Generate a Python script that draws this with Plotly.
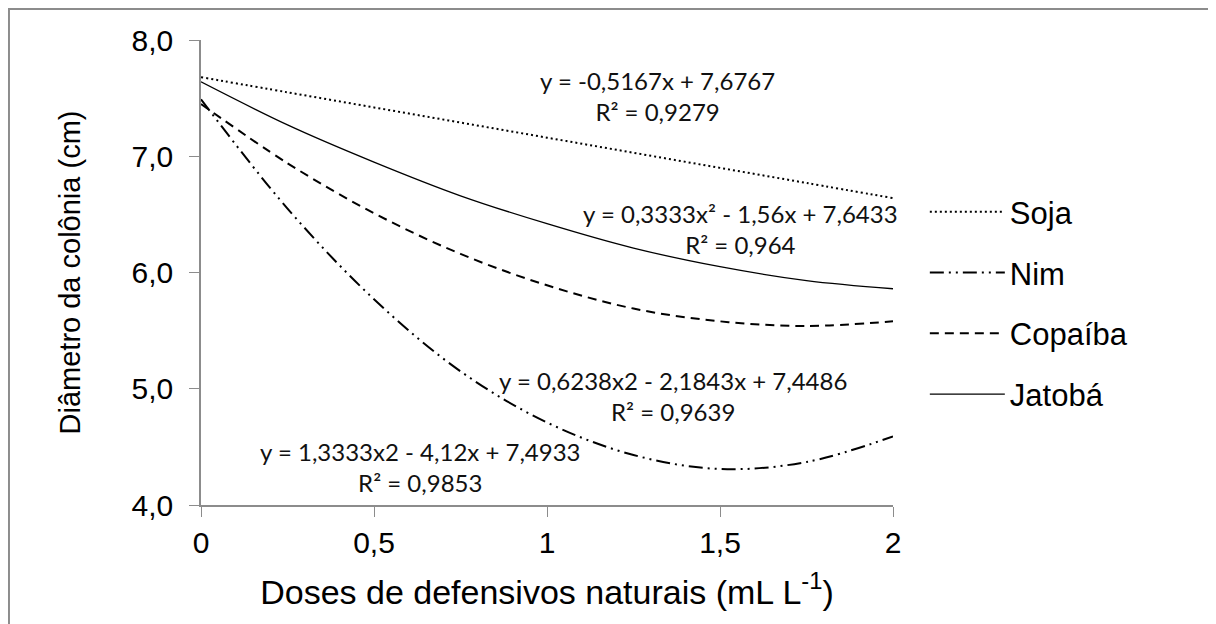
import plotly.graph_objects as go

# Doses (mL L-1)
doses = [0, 0.25, 0.5, 0.75, 1.0, 1.25, 1.5, 1.75, 2.0]

# Colony diameter (cm)
soja = [7.68, 7.55, 7.42, 7.29, 7.16, 7.03, 6.90, 6.77, 6.64]
nim = [7.49, 6.55, 5.77, 5.15, 4.71, 4.43, 4.31, 4.37, 4.59]
copaiba = [7.45, 6.94, 6.51, 6.16, 5.89, 5.69, 5.58, 5.54, 5.58]
jatoba = [7.64, 7.27, 6.95, 6.66, 6.42, 6.21, 6.05, 5.93, 5.86]

x_ticks = [0, 0.5, 1, 1.5, 2]
x_tick_text = ["0", "0,5", "1", "1,5", "2"]
y_ticks = [4, 5, 6, 7, 8]
y_tick_text = ["4,0", "5,0", "6,0", "7,0", "8,0"]

series = [
    ("Soja", soja, "2px,3px", 2),
    ("Nim", nim, "14px,5px,2px,5px,2px,5px", 2),
    ("Copaíba", copaiba, "9px,6px", 2),
    ("Jatobá", jatoba, "solid", 1.3),
]

fig = go.Figure()
for name, vals, dash, w in series:
    fig.add_trace(go.Scatter(
        x=doses, y=vals, name=name, mode="lines",
        line=dict(color="black", width=w, dash=dash, shape="spline"),
        legendgroup=name,
    ))

eq_font = dict(family="Lato, Carlito, sans-serif", size=24, color="#111")
annotations = [
    (1.318, 7.52, "y = -0,5167x + 7,6767<br>R² = 0,9279"),
    (1.558, 6.37, "y = 0,3333x² - 1,56x + 7,6433<br>R² = 0,964"),
    (1.364, 4.94, "y = 0,6238x2 - 2,1843x + 7,4486<br>R² = 0,9639"),
    (0.633, 4.33, "y = 1,3333x2 - 4,12x + 7,4933<br>R² = 0,9853"),
]
for ax, ay, txt in annotations:
    fig.add_annotation(x=ax, y=ay, text=txt, showarrow=False, font=eq_font,
                       xanchor="center", yanchor="middle", align="center")

# outer frame
fig.add_shape(type="rect", xref="paper", yref="paper",
              x0=-0.2775, x1=1.4624, y0=-0.3, y1=1.0667,
              line=dict(color="#8c8c8c", width=2), layer="below")

tick_font = dict(family="Liberation Sans, Arial, sans-serif", size=30, color="black")
fig.update_layout(
    width=1208, height=616,
    margin=dict(l=193, r=323, t=32, b=119),
    paper_bgcolor="white", plot_bgcolor="white",
    showlegend=True,
    legend=dict(x=1.046, y=0.688, xanchor="left", yanchor="top",
                font=dict(family="Liberation Sans, Arial, sans-serif", size=31, color="black"),
                tracegroupgap=17.5, itemwidth=75, bgcolor="rgba(0,0,0,0)"),
    xaxis=dict(range=[0, 2], tickvals=x_ticks, ticktext=x_tick_text,
               showgrid=False, zeroline=False, showline=True, linecolor="#8c8c8c",
               linewidth=1.5, ticks="outside", ticklen=10, tickcolor="#8c8c8c",
               tickfont=tick_font,
               title=dict(text="Doses de defensivos naturais (mL L<sup>-1</sup>)",
                          font=dict(family="Liberation Sans, Arial, sans-serif", size=34, color="black"),
                          standoff=22)),
    yaxis=dict(range=[4, 8], tickvals=y_ticks, ticktext=y_tick_text,
               showgrid=False, zeroline=False, showline=True, linecolor="#8c8c8c",
               linewidth=1.5, ticks="outside", ticklen=10, tickcolor="#8c8c8c",
               tickfont=tick_font, ticklabelstandoff=10,
               title=dict(text="Diâmetro da colônia (cm)",
                          font=dict(family="Liberation Sans, Arial, sans-serif", size=29, color="black"),
                          standoff=42)),
)

fig.write_html("out.html")
